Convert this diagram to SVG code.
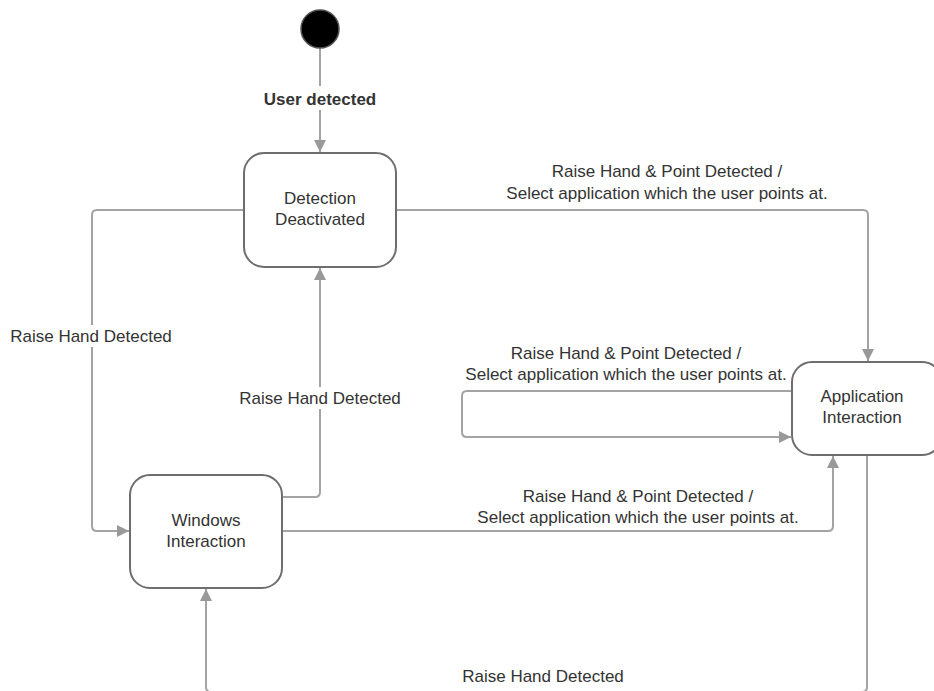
<svg xmlns="http://www.w3.org/2000/svg" width="934" height="691" viewBox="0 0 934 691">
  <defs>
    <marker id="arrow" viewBox="0 0 12 12" refX="12" refY="6" markerWidth="12" markerHeight="12" markerUnits="userSpaceOnUse" orient="auto">
      <path d="M0,0 L12,6 L0,12 Z" fill="#999999"/>
    </marker>
  </defs>
  <style>
    .state { fill: #ffffff; stroke: #6e6e6e; stroke-width: 2; }
    .link { fill: none; stroke: #a3a3a3; stroke-width: 2; stroke-linejoin: round; marker-end: url(#arrow); }
    .txt { font-family: "Liberation Sans", Arial, sans-serif; font-size: 17px; fill: #333333; text-anchor: middle; }
    .bold { font-weight: bold; }
    .bg { fill: #ffffff; }
  </style>
  <rect width="934" height="691" fill="#ffffff"/>

  <g id="connectors">
    <path class="link" d="M320,48 V152"/>
    <path class="link" d="M244,210 H97 Q92,210 92,215 V526 Q92,531 97,531 H129"/>
    <path class="link" d="M396,210 H863 Q868,210 868,215 V361"/>
    <path class="link" d="M792,391 H467 Q462,391 462,396 V432 Q462,437 467,437 H791"/>
    <path class="link" d="M282,497 H315 Q320,497 320,492 V268"/>
    <path class="link" d="M282,531 H828 Q833,531 833,526 V456"/>
    <path class="link" d="M867,455 V687 Q867,692 862,692 H211 Q206,692 206,687 V589"/>
  </g>

  <g id="labels">
    <rect class="bg" x="258" y="86" width="124" height="24"/>
    <text class="txt bold" x="320" y="105">User detected</text>
    <text class="txt" x="667" y="177">Raise Hand &amp; Point Detected /</text>
    <text class="txt" x="667" y="199">Select application which the user points at.</text>
    <rect class="bg" x="8" y="325" width="168" height="22"/>
    <text class="txt" x="91" y="342">Raise Hand Detected</text>
    <text class="txt" x="626" y="359">Raise Hand &amp; Point Detected /</text>
    <text class="txt" x="626" y="380">Select application which the user points at.</text>
    <rect class="bg" x="236" y="387" width="168" height="22"/>
    <text class="txt" x="320" y="404">Raise Hand Detected</text>
    <text class="txt" x="638" y="502">Raise Hand &amp; Point Detected /</text>
    <text class="txt" x="638" y="523">Select application which the user points at.</text>
    <text class="txt" x="543" y="682">Raise Hand Detected</text>
  </g>

  <g id="start">
    <circle cx="320" cy="29" r="19" fill="#000000" stroke="#555555" stroke-width="1.5"/>
  </g>

  <g id="detection-deactivated">
    <rect class="state" x="244" y="153" width="152" height="114" rx="20"/>
    <text class="txt" x="320" y="204">Detection</text>
    <text class="txt" x="320" y="225">Deactivated</text>
  </g>

  <g id="application-interaction">
    <rect class="state" x="792" y="362" width="150" height="93" rx="20"/>
    <text class="txt" x="862" y="402">Application</text>
    <text class="txt" x="862" y="423">Interaction</text>
  </g>

  <g id="windows-interaction">
    <rect class="state" x="130" y="475" width="152" height="113" rx="20"/>
    <text class="txt" x="206" y="526">Windows</text>
    <text class="txt" x="206" y="547">Interaction</text>
  </g>
</svg>
